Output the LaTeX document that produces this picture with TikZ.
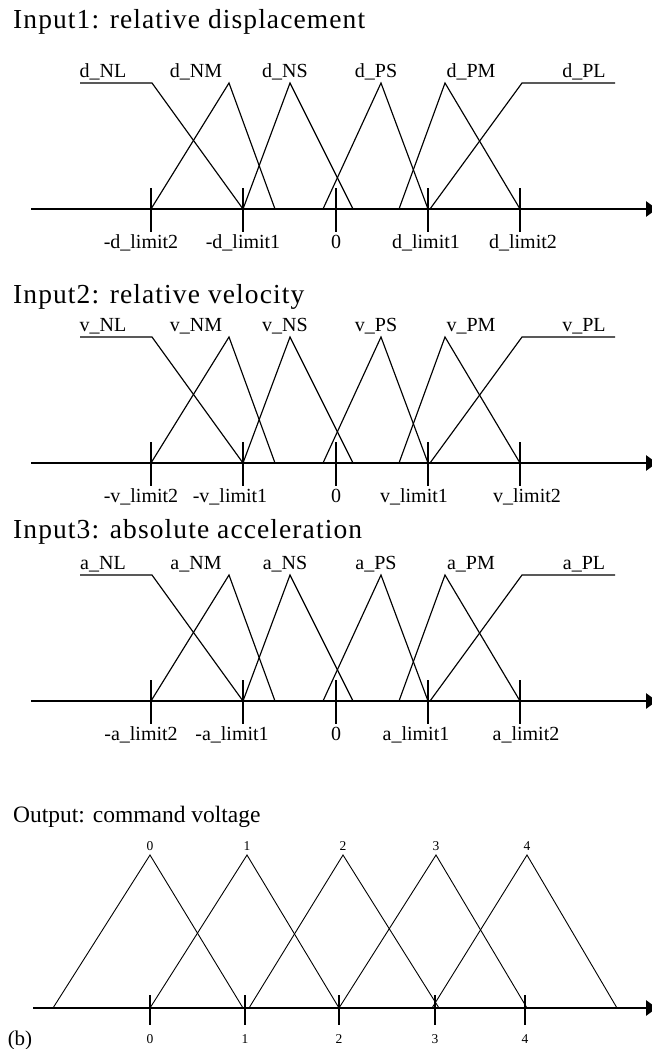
\documentclass[tikz,border=0pt]{standalone}
\usepackage{fontspec}
\setmainfont{Liberation Serif}
\newfontfamily\titlefont[LetterSpace=4]{Liberation Serif}
\usetikzlibrary{arrows.meta}

\begin{document}
\begin{tikzpicture}[x=1pt, y=-1pt, >={Triangle[length=11pt, width=15pt]},
  axis/.style={line width=2.8pt, ->},
  mf/.style={line width=1.15pt},
  tick/.style={line width=1.2pt},
  lbl/.style={font=\fontsize{20}{20}\selectfont, inner sep=0pt},
  small/.style={font=\fontsize{13.5}{13.5}\selectfont, inner sep=0pt},
  ttl/.style={font=\titlefont\fontsize{27.5}{27.5}\selectfont, anchor=west, inner sep=0pt}]
  \useasboundingbox (0,0) rectangle (652,1049);
  \node[ttl] (ttl1) at (13,22) {Input1: relative displacement};
  \node[ttl] (ttl2) at (13,297) {Input2: relative velocity};
  \node[ttl] (ttl3) at (13,532) {Input3: absolute acceleration};
  \foreach \p/\yo/\na/\pa/\pb in {d/0/243/426/523, v/254/230/414/527, a/492/232/416/526} {
    \begin{scope}[shift={(0,\yo)}]
      \draw[axis] (31,209) -- (657,209);
      \foreach \x in {151,243,336,428,520}
        \draw[tick] (\x,188) -- (\x,232);
      \draw[mf] (80,83) -- (152,83) -- (243,209);
      \draw[mf] (151,209) -- (229,83) -- (275,209);
      \draw[mf] (243,209) -- (290,83) -- (353,209);
      \draw[mf] (323,209) -- (381,83) -- (428,209);
      \draw[mf] (399,209) -- (445,83) -- (520,209);
      \draw[mf] (430,209) -- (522,83) -- (615,83);
      \foreach \m/\x in {NL/103, NM/196, NS/285, PS/376, PM/471, PL/584}
        \node[lbl] (\p\m) at (\x,72) {\p\_\m};
      \node[lbl] (\p n2) at (141,243) {-\p\_limit2};
      \node[lbl] (\p n1) at (\na,243) {-\p\_limit1};
      \node[lbl] (\p z) at (336,242) {0};
      \node[lbl] (\p p1) at (\pa,243) {\p\_limit1};
      \node[lbl] (\p p2) at (\pb,243) {\p\_limit2};
    \end{scope}
  }
  % output
  \node[font=\fontsize{23.5}{23.5}\selectfont, anchor=west, inner sep=0pt] (ttl4)
    at (13,817) {Output: command voltage};
  \draw[axis] (33,1008) -- (657,1008);
  \foreach \x/\t in {150/0, 245/1, 339/2, 435/3, 525/4} {
    \draw[tick] (\x,995) -- (\x,1025);
    \node[small] (b\t) at (\x,1039) {\t};
  }
  \foreach \l/\c/\r/\t in {53/150/243/0, 150/247/339/1, 249/343/439/2,
                           339/436/527/3, 432/527/617/4} {
    \draw[mf, line width=0.9pt] (\l,1008) -- (\c,855) -- (\r,1008);
    \node[small] (o\t) at (\c,846) {\t};
  }
  \node[font=\fontsize{21}{21}\selectfont, inner sep=0pt] (tagb) at (20,1040) {(b)};
\end{tikzpicture}
\end{document}
